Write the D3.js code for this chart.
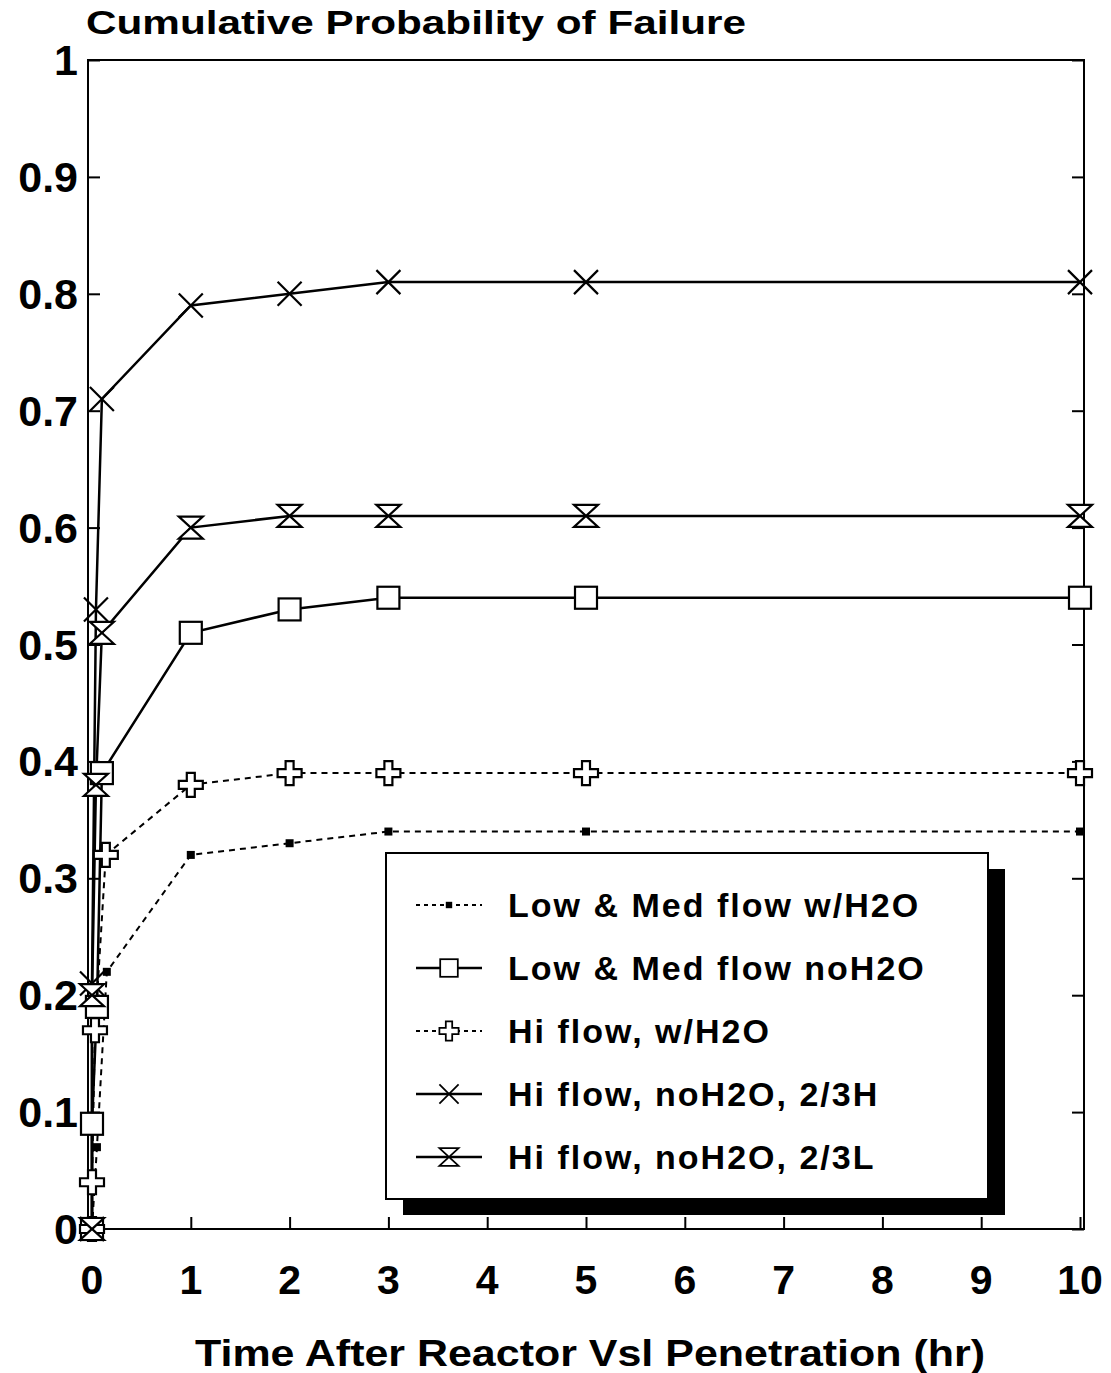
<!DOCTYPE html>
<html><head><meta charset="utf-8">
<script src="https://cdn.jsdelivr.net/npm/d3@7"></script>
<style>body{margin:0;background:#fff}svg{display:block}text{font-family:"Liberation Sans",Arial,sans-serif;font-weight:bold;fill:#000}</style>
</head><body>
<script>
const title = "Cumulative Probability of Failure";
const xTitle = "Time After Reactor Vsl Penetration (hr)";
const xTicks = [0,1,2,3,4,5,6,7,8,9,10];
const yTicks = [0,0.1,0.2,0.3,0.4,0.5,0.6,0.7,0.8,0.9,1];
const yTickLabels = ["0","0.1","0.2","0.3","0.4","0.5","0.6","0.7","0.8","0.9","1"];

const seriesNames = ["Low & Med flow w/H2O","Low & Med flow noH2O","Hi flow, w/H2O","Hi flow, noH2O, 2/3H","Hi flow, noH2O, 2/3L"];
const lowMedWaterT = [0,0.05,0.15,1,2,3,5,10];
const lowMedWaterP = [0,0.07,0.22,0.32,0.33,0.34,0.34,0.34];
const lowMedDryT = [0,0.0,0.05,0.1,1,2,3,5,10];
const lowMedDryP = [0,0.09,0.19,0.39,0.51,0.53,0.54,0.54,0.54];
const hiWaterT = [0,0.0,0.03,0.14,1,2,3,5,10];
const hiWaterP = [0,0.04,0.17,0.32,0.38,0.39,0.39,0.39,0.39];
const hi23HT = [0,0.0,0.04,0.1,1,2,3,5,10];
const hi23HP = [0,0.21,0.53,0.71,0.79,0.80,0.81,0.81,0.81];
const hi23LT = [0,0.0,0.04,0.1,1,2,3,5,10];
const hi23LP = [0,0.20,0.38,0.51,0.60,0.61,0.61,0.61,0.61];

const W=1111,H=1373;
const svg=d3.select("body").append("svg").attr("width",W).attr("height",H);
const x=d3.scaleLinear().domain([0,10]).range([92,1080]);
const y=d3.scaleLinear().domain([0,1]).range([1229,60]);
const frameL=88, frameR=1084;

svg.append("rect").attr("x",frameL).attr("y",y(1)).attr("width",frameR-frameL).attr("height",y(0)-y(1))
  .attr("fill","none").attr("stroke","#000").attr("stroke-width",2);

const gyl=svg.append("g").attr("transform",`translate(${frameL},0)`)
  .call(d3.axisRight(y).tickValues(yTicks).tickSize(12).tickFormat(""));
gyl.select(".domain").remove();
gyl.selectAll("line").attr("stroke-width",2);
const gyr=svg.append("g").attr("transform",`translate(${frameR},0)`)
  .call(d3.axisLeft(y).tickValues(yTicks).tickSize(12).tickFormat(""));
gyr.select(".domain").remove();
gyr.selectAll("line").attr("stroke-width",2);
svg.append("g").selectAll("text").data(yTicks).join("text")
  .attr("x",78).attr("y",d=>y(d)+15).attr("text-anchor","end")
  .attr("font-size",43).text((d,i)=>yTickLabels[i]);

const gx=svg.append("g").attr("transform",`translate(0,${y(0)})`)
  .call(d3.axisTop(x).tickValues(xTicks).tickSize(12).tickFormat(""));
gx.select(".domain").remove();
gx.selectAll("line").attr("stroke-width",2);
svg.append("g").selectAll("text").data(xTicks).join("text")
  .attr("x",d=>x(d)).attr("y",1294).attr("text-anchor","middle")
  .attr("font-size",41).text(d=>d);

svg.append("text").attr("x",86).attr("y",34).attr("font-size",33).attr("textLength",660).attr("lengthAdjust","spacingAndGlyphs").text(title);
svg.append("text").attr("x",590).attr("y",1366).attr("text-anchor","middle").attr("font-size",36)
  .attr("textLength",790).attr("lengthAdjust","spacingAndGlyphs").text(xTitle);

const mk={
  fsq:(g)=>g.append("rect").attr("x",-4).attr("y",-4).attr("width",8).attr("height",8).attr("fill","#000"),
  sq:(g)=>g.append("rect").attr("x",-11).attr("y",-11).attr("width",22).attr("height",22).attr("fill","#fff").attr("stroke","#000").attr("stroke-width",2.2),
  plus:(g)=>g.append("path").attr("d","M-4,-12H4V-4H12V4H4V12H-4V4H-12V-4H-4Z").attr("fill","#fff").attr("stroke","#000").attr("stroke-width",2.2),
  x:(g)=>g.append("path").attr("d","M-12,-12L12,12M-12,12L12,-12").attr("stroke","#000").attr("stroke-width",2.2).attr("fill","none"),
  bow:(g)=>g.append("path").attr("d","M-12,-11H12L-12,11H12Z").attr("fill","#fff").attr("stroke","#000").attr("stroke-width",2.2)
};
const series=[
  {t:lowMedWaterT,p:lowMedWaterP,dash:"6,5",w:2,m:"fsq"},
  {t:lowMedDryT,p:lowMedDryP,dash:null,w:2.5,m:"sq"},
  {t:hiWaterT,p:hiWaterP,dash:"6,5",w:2,m:"plus"},
  {t:hi23HT,p:hi23HP,dash:null,w:2.5,m:"x"},
  {t:hi23LT,p:hi23LP,dash:null,w:2.5,m:"bow"}
];
const line=d3.line().x(d=>x(d[0])).y(d=>y(d[1]));
series.forEach(s=>{
  const pts=s.t.map((t,i)=>[t,s.p[i]]);
  svg.append("path").attr("d",line(pts)).attr("fill","none").attr("stroke","#000")
    .attr("stroke-width",s.w).attr("stroke-dasharray",s.dash);
});
series.forEach(s=>{
  const pts=s.t.map((t,i)=>[t,s.p[i]]);
  pts.forEach(p=>{
    const g=svg.append("g").attr("transform",`translate(${x(p[0])},${y(p[1])})`);
    mk[s.m](g);
  });
});

const lg=svg.append("g");
lg.append("rect").attr("x",403).attr("y",869).attr("width",602).attr("height",346).attr("fill","#000");
lg.append("rect").attr("x",386).attr("y",853).attr("width",602).attr("height",346).attr("fill","#fff").attr("stroke","#000").attr("stroke-width",2);
const rowY=[905,968,1031,1094,1157];
series.forEach((s,i)=>{
  lg.append("line").attr("x1",416).attr("x2",482).attr("y1",rowY[i]).attr("y2",rowY[i])
    .attr("stroke","#000").attr("stroke-width",s.w).attr("stroke-dasharray",s.dash?"4,4":null);
  const g=lg.append("g").attr("transform",`translate(449,${rowY[i]}) scale(0.8)`);
  mk[s.m](g);
  lg.append("text").attr("x",508).attr("y",rowY[i]+12).attr("font-size",34)
    .attr("letter-spacing",2).text(seriesNames[i]);
});
</script>
</body></html>
